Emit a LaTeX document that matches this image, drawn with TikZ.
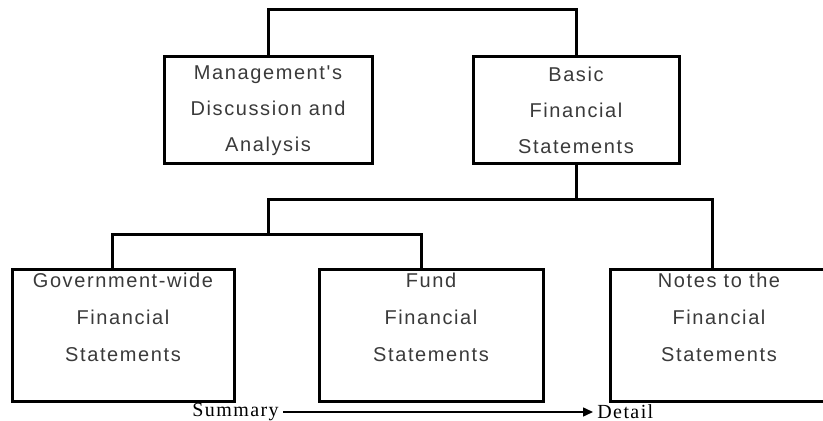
\documentclass[tikz,border=0pt]{standalone}
\usepackage{fontspec}
\setmainfont{Liberation Serif}
\newfontfamily\boxfont[LetterSpace=8]{Liberation Sans}
\newfontfamily\axisfont[LetterSpace=7]{Liberation Serif}
\usetikzlibrary{arrows.meta}
\definecolor{boxtext}{HTML}{3A3A3A}
\tikzset{
  part/.style={draw, line width=1.5pt, align=center, text=boxtext,
    font=\boxfont\fontsize{10pt}{18pt}\selectfont, inner sep=0pt},
  upper/.style={part, minimum width=104pt, minimum height=53.5pt},
  lower/.style={part, minimum width=112pt, minimum height=66pt,
    font=\boxfont\fontsize{10pt}{18.5pt}\selectfont},
  link/.style={line width=1.5pt, line join=miter},
  axis/.style={font=\axisfont\fontsize{10pt}{10pt}\selectfont, inner sep=2pt}
}

\begin{document}
\begin{tikzpicture}[x=0.5pt, y=-0.5pt]
        \useasboundingbox (0,0) rectangle (823,421);
        \node[upper] (mda) at (268,110.5) {Management's\\Discussion and\\Analysis};
        \node[upper, minimum width=103pt] (basic) at (576,110.5) {Basic\\Financial\\Statements};
        \node[lower, minimum width=111pt] (gov) at (123,336) {Government-wide\\Financial\\Statements\\~};
        \node[lower] (fund) at (431,336) {Fund\\Financial\\Statements\\~};
        \node[lower, minimum width=109pt] (notes) at (719,336) {Notes to the\\Financial\\Statements\\~};
        \coordinate (top) at (422,10);
        \coordinate (split) at (576,200);
        \coordinate (summ) at (268,235);
        \draw[link] (mda.north) |- (top) -| (basic.north);
        \draw[link] (basic.south) -- (split) -| (summ);
        \draw[link] (split) -| ([xshift=52pt]notes.north west);
        \draw[link] ([xshift=51pt]gov.north west) |- (summ) -| ([xshift=52pt]fund.north west);
        \node[axis, anchor=east] (summary) at (283,412) {Summary};
        \node[axis, anchor=west] (detail) at (593,412) {Detail};
        \draw[line width=0.75pt, -{Triangle[length=5pt, width=4.5pt]}] (summary.east) -- (detail.west);
\end{tikzpicture}
\end{document}
